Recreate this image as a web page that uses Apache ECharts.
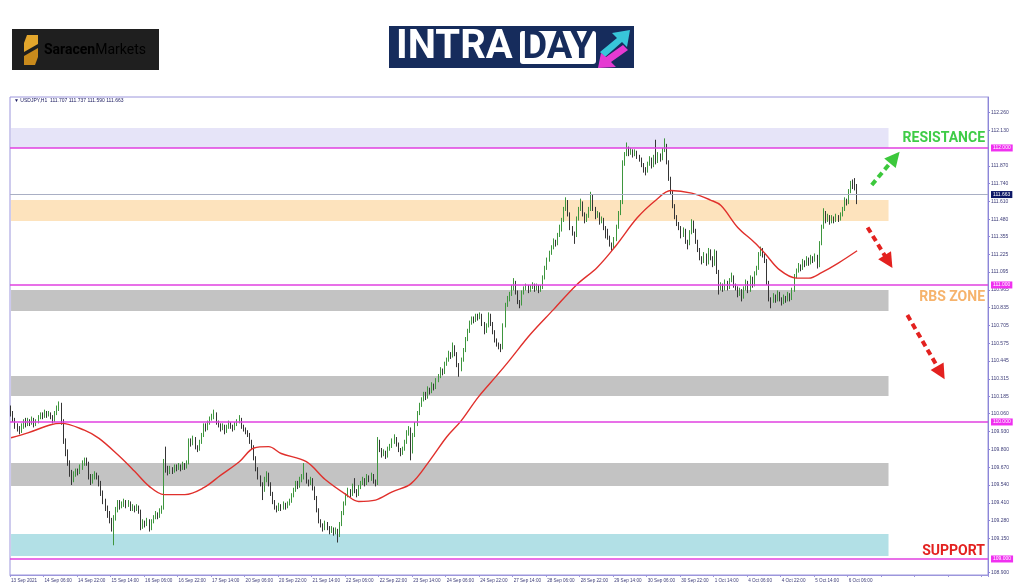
<!DOCTYPE html>
<html><head><meta charset="utf-8">
<script src="https://cdn.jsdelivr.net/npm/echarts@6/dist/echarts.min.js"></script>
<style>html,body{margin:0;padding:0;background:#fff}#c{width:1024px;height:587px}</style>
</head><body><div id="c"></div>
<script>
// ---------- data ----------
const tickLabels = ['13 Sep 2021','14 Sep 06:00','14 Sep 22:00','15 Sep 14:00','16 Sep 06:00','16 Sep 22:00','17 Sep 14:00','20 Sep 06:00','20 Sep 22:00','21 Sep 14:00','22 Sep 06:00','22 Sep 22:00','23 Sep 14:00','24 Sep 06:00','24 Sep 22:00','27 Sep 14:00','28 Sep 06:00','28 Sep 22:00','29 Sep 14:00','30 Sep 06:00','30 Sep 22:00','1 Oct 14:00','4 Oct 06:00','4 Oct 22:00','5 Oct 14:00','6 Oct 06:00'];
const yTicks = [112.260,112.130,111.870,111.740,111.610,111.480,111.355,111.225,111.095,110.965,110.835,110.705,110.575,110.445,110.315,110.185,110.060,109.930,109.800,109.670,109.540,109.410,109.280,109.150,108.900];
// [open, close, low, high] per H1 bar
const candles = [
[110.10,110.06,110.04,110.12],[110.06,110.02,110.00,110.08],[110.02,109.97,109.95,110.03],[109.97,109.95,109.93,109.99],[109.95,109.93,109.91,109.97],
[109.93,109.97,109.92,109.99],[109.97,110.00,109.95,110.02],[110.00,109.98,109.96,110.03],[109.98,110.01,109.97,110.03],[110.01,109.99,109.97,110.02],
[109.99,110.02,109.98,110.04],[110.02,109.98,109.96,110.03],[109.98,110.00,109.97,110.02],[110.00,110.03,109.99,110.05],[110.03,110.05,110.02,110.07],
[110.05,110.04,110.02,110.07],[110.04,110.07,110.03,110.09],[110.07,110.05,110.03,110.08],[110.05,110.06,110.04,110.08],[110.06,110.04,110.02,110.07],
[110.04,110.01,109.99,110.05],[110.01,110.06,110.00,110.08],[110.06,110.10,110.05,110.12],[110.10,110.13,110.08,110.15],[110.13,110.00,109.98,110.14],
[110.00,109.86,109.84,110.02],[109.86,109.78,109.75,109.88],[109.78,109.70,109.68,109.80],[109.70,109.63,109.60,109.72],[109.63,109.58,109.54,109.65],
[109.58,109.62,109.56,109.64],[109.62,109.64,109.60,109.66],[109.64,109.63,109.61,109.66],[109.63,109.67,109.62,109.69],[109.67,109.70,109.65,109.72],
[109.70,109.72,109.68,109.74],[109.72,109.70,109.68,109.74],[109.70,109.60,109.58,109.71],[109.60,109.56,109.54,109.62],[109.56,109.60,109.55,109.62],
[109.60,109.62,109.58,109.64],[109.62,109.60,109.58,109.63],[109.60,109.55,109.53,109.61],[109.55,109.48,109.46,109.57],[109.48,109.42,109.40,109.50],
[109.42,109.37,109.35,109.44],[109.37,109.33,109.30,109.39],[109.33,109.28,109.26,109.35],[109.28,109.23,109.20,109.30],[109.23,109.30,109.10,109.32],
[109.30,109.36,109.28,109.38],[109.36,109.41,109.34,109.43],[109.41,109.38,109.36,109.43],[109.38,109.40,109.37,109.42],[109.40,109.42,109.38,109.44],
[109.42,109.39,109.37,109.43],[109.39,109.41,109.38,109.43],[109.41,109.37,109.35,109.42],[109.37,109.38,109.35,109.40],[109.38,109.36,109.34,109.39],
[109.36,109.38,109.35,109.40],[109.38,109.35,109.33,109.39],[109.35,109.23,109.21,109.36],[109.23,109.27,109.22,109.29],[109.27,109.25,109.23,109.28],
[109.25,109.28,109.24,109.30],[109.28,109.22,109.20,109.29],[109.22,109.27,109.21,109.29],[109.27,109.30,109.26,109.32],[109.30,109.33,109.29,109.35],
[109.33,109.31,109.29,109.34],[109.31,109.35,109.30,109.37],[109.35,109.37,109.33,109.39],[109.37,109.69,109.36,109.73],[109.69,109.66,109.63,109.82],
[109.66,109.63,109.61,109.68],[109.63,109.66,109.62,109.68],[109.66,109.64,109.62,109.67],[109.64,109.67,109.63,109.69],[109.67,109.66,109.64,109.69],
[109.66,109.68,109.65,109.70],[109.68,109.66,109.64,109.69],[109.66,109.69,109.65,109.71],[109.69,109.67,109.65,109.70],[109.67,109.70,109.66,109.72],
[109.70,109.86,109.69,109.88],[109.86,109.84,109.82,109.88],[109.84,109.88,109.83,109.90],[109.88,109.82,109.80,109.89],[109.82,109.80,109.78,109.83],
[109.80,109.85,109.79,109.87],[109.85,109.90,109.84,109.92],[109.90,109.97,109.89,109.99],[109.97,109.95,109.93,109.99],[109.95,109.99,109.94,110.01],
[109.99,110.02,109.98,110.04],[110.02,110.04,110.01,110.06],[110.04,110.06,110.02,110.09],[110.06,110.00,109.98,110.07],[110.00,109.98,109.96,110.01],
[109.98,109.95,109.93,109.99],[109.95,109.97,109.94,109.99],[109.97,109.93,109.91,109.98],[109.93,109.96,109.92,109.98],[109.96,109.99,109.95,110.01],
[109.99,109.97,109.95,110.00],[109.97,109.95,109.93,109.98],[109.95,109.98,109.94,110.00],[109.98,110.00,109.97,110.02],[110.00,110.02,109.99,110.05],
[110.02,109.97,109.95,110.03],[109.97,109.95,109.93,109.98],[109.95,109.93,109.91,109.96],[109.93,109.91,109.89,109.94],[109.91,109.86,109.84,109.92],
[109.86,109.82,109.80,109.87],[109.82,109.74,109.72,109.83],[109.74,109.66,109.64,109.75],[109.66,109.60,109.58,109.67],[109.60,109.55,109.53,109.61],
[109.55,109.50,109.43,109.56],[109.50,109.58,109.49,109.60],[109.58,109.62,109.56,109.64],[109.62,109.55,109.53,109.63],[109.55,109.48,109.46,109.56],
[109.48,109.42,109.40,109.49],[109.42,109.38,109.36,109.43],[109.38,109.36,109.34,109.39],[109.36,109.39,109.35,109.41],[109.39,109.37,109.35,109.40],
[109.37,109.40,109.36,109.42],[109.40,109.38,109.36,109.41],[109.38,109.40,109.37,109.42],[109.40,109.42,109.39,109.44],[109.42,109.46,109.41,109.48],
[109.46,109.50,109.45,109.52],[109.50,109.55,109.49,109.57],[109.55,109.53,109.51,109.57],[109.53,109.58,109.52,109.60],[109.58,109.60,109.56,109.62],
[109.60,109.62,109.58,109.70],[109.62,109.57,109.55,109.63],[109.57,109.55,109.53,109.58],[109.55,109.58,109.54,109.60],[109.58,109.52,109.50,109.59],
[109.52,109.45,109.43,109.53],[109.45,109.36,109.34,109.46],[109.36,109.28,109.26,109.37],[109.28,109.25,109.23,109.29],[109.25,109.22,109.20,109.26],
[109.22,109.26,109.21,109.28],[109.26,109.23,109.21,109.27],[109.23,109.20,109.18,109.24],[109.20,109.22,109.19,109.24],[109.22,109.19,109.17,109.23],
[109.19,109.21,109.18,109.23],[109.21,109.17,109.12,109.22],[109.17,109.25,109.16,109.27],[109.25,109.33,109.24,109.35],[109.33,109.40,109.32,109.42],
[109.40,109.46,109.39,109.48],[109.46,109.50,109.45,109.52],[109.50,109.47,109.45,109.51],[109.47,109.53,109.46,109.55],[109.53,109.50,109.48,109.59],
[109.50,109.47,109.45,109.51],[109.47,109.52,109.46,109.54],[109.52,109.55,109.51,109.57],[109.55,109.58,109.54,109.60],[109.58,109.55,109.53,109.59],
[109.55,109.60,109.54,109.62],[109.60,109.58,109.56,109.61],[109.58,109.61,109.57,109.63],[109.61,109.57,109.55,109.62],[109.57,109.55,109.53,109.58],
[109.55,109.86,109.54,109.89],[109.86,109.80,109.78,109.87],[109.80,109.76,109.74,109.81],[109.76,109.78,109.75,109.80],[109.78,109.75,109.73,109.79],
[109.75,109.80,109.74,109.82],[109.80,109.82,109.79,109.84],[109.82,109.86,109.81,109.88],[109.86,109.88,109.84,109.91],[109.88,109.84,109.82,109.89],
[109.84,109.80,109.78,109.85],[109.80,109.77,109.75,109.81],[109.77,109.80,109.76,109.82],[109.80,109.85,109.79,109.87],[109.85,109.92,109.84,109.94],
[109.92,109.95,109.90,109.97],[109.95,109.78,109.72,109.96],[109.78,109.90,109.77,109.92],[109.90,109.98,109.89,110.00],[109.98,110.06,109.97,110.08],
[110.06,110.12,110.05,110.14],[110.12,110.16,110.11,110.18],[110.16,110.20,110.15,110.22],[110.20,110.18,110.16,110.22],[110.18,110.24,110.17,110.26],
[110.24,110.22,110.20,110.25],[110.22,110.27,110.21,110.29],[110.27,110.25,110.23,110.28],[110.25,110.30,110.24,110.32],[110.30,110.33,110.29,110.35],
[110.33,110.38,110.32,110.40],[110.38,110.36,110.34,110.39],[110.36,110.42,110.35,110.44],[110.42,110.45,110.41,110.47],[110.45,110.50,110.44,110.52],
[110.50,110.48,110.46,110.51],[110.48,110.55,110.47,110.58],[110.55,110.50,110.48,110.56],[110.50,110.42,110.40,110.51],[110.42,110.38,110.33,110.43],
[110.38,110.45,110.37,110.47],[110.45,110.52,110.44,110.54],[110.52,110.60,110.51,110.62],[110.60,110.66,110.59,110.68],[110.66,110.72,110.65,110.74],
[110.72,110.75,110.71,110.77],[110.75,110.74,110.72,110.77],[110.74,110.77,110.73,110.79],[110.77,110.76,110.74,110.79],[110.76,110.78,110.75,110.80],
[110.78,110.72,110.70,110.79],[110.72,110.66,110.64,110.73],[110.66,110.70,110.65,110.72],[110.70,110.78,110.69,110.80],[110.78,110.72,110.70,110.79],
[110.72,110.66,110.64,110.73],[110.66,110.60,110.58,110.67],[110.60,110.57,110.55,110.61],[110.57,110.55,110.53,110.58],[110.55,110.54,110.51,110.57],
[110.54,110.70,110.53,110.72],[110.70,110.85,110.69,110.87],[110.85,110.90,110.84,110.92],[110.90,110.93,110.88,110.95],[110.93,110.98,110.92,111.00],
[110.98,111.02,110.96,111.05],[111.02,110.95,110.93,111.03],[110.95,110.88,110.86,110.96],[110.88,110.86,110.83,110.89],[110.86,110.94,110.85,110.96],
[110.94,110.97,110.93,110.99],[110.97,110.99,110.96,111.01],[110.99,110.96,110.94,111.00],[110.96,110.98,110.95,111.00],[110.98,111.00,110.97,111.02],
[111.00,110.97,110.95,111.01],[110.97,110.99,110.96,111.01],[110.99,110.96,110.94,111.00],[110.96,110.98,110.95,111.00],[110.98,111.05,110.97,111.07],
[111.05,111.12,111.04,111.14],[111.12,111.18,111.11,111.20],[111.18,111.23,111.17,111.25],[111.23,111.27,111.22,111.29],[111.27,111.32,111.26,111.34],
[111.32,111.30,111.28,111.33],[111.30,111.36,111.29,111.38],[111.36,111.40,111.35,111.44],[111.40,111.47,111.39,111.49],[111.47,111.55,111.46,111.57],
[111.55,111.61,111.54,111.64],[111.61,111.52,111.50,111.62],[111.52,111.42,111.40,111.53],[111.42,111.38,111.36,111.43],[111.38,111.36,111.30,111.39],
[111.36,111.48,111.35,111.50],[111.48,111.55,111.47,111.57],[111.55,111.60,111.54,111.63],[111.60,111.52,111.50,111.61],[111.52,111.47,111.45,111.53],
[111.47,111.50,111.46,111.52],[111.50,111.55,111.49,111.57],[111.55,111.65,111.54,111.68],[111.65,111.56,111.54,111.66],[111.56,111.50,111.48,111.57],
[111.50,111.52,111.49,111.54],[111.52,111.46,111.44,111.53],[111.46,111.48,111.45,111.50],[111.48,111.42,111.40,111.49],[111.42,111.40,111.34,111.43],
[111.40,111.35,111.33,111.41],[111.35,111.30,111.28,111.36],[111.30,111.28,111.25,111.31],[111.28,111.33,111.27,111.35],[111.33,111.42,111.32,111.44],
[111.42,111.52,111.41,111.54],[111.52,111.60,111.51,111.62],[111.60,111.88,111.59,111.91],[111.88,111.95,111.87,111.97],[111.95,112.00,111.94,112.04],
[112.00,111.96,111.94,112.01],[111.96,111.98,111.95,112.00],[111.98,111.95,111.93,111.99],[111.95,111.97,111.94,111.99],[111.97,111.94,111.92,111.98],
[111.94,111.92,111.90,111.95],[111.92,111.88,111.86,111.93],[111.88,111.84,111.82,111.89],[111.84,111.83,111.80,111.86],[111.83,111.88,111.82,111.90],
[111.88,111.92,111.87,111.94],[111.92,111.87,111.85,111.93],[111.87,111.93,111.86,111.95],[111.93,111.90,111.88,112.06],[111.90,111.95,111.89,111.97],
[111.95,111.92,111.90,111.96],[111.92,111.98,111.91,112.00],[111.98,112.02,111.97,112.07],[112.02,111.90,111.88,112.03],[111.90,111.78,111.76,111.91],
[111.78,111.68,111.66,111.79],[111.68,111.58,111.56,111.69],[111.58,111.50,111.48,111.59],[111.50,111.45,111.43,111.51],[111.45,111.42,111.40,111.46],
[111.42,111.36,111.34,111.43],[111.36,111.40,111.35,111.42],[111.40,111.32,111.30,111.41],[111.32,111.30,111.26,111.33],[111.30,111.38,111.29,111.40],
[111.38,111.46,111.37,111.48],[111.46,111.40,111.38,111.47],[111.40,111.32,111.30,111.41],[111.32,111.26,111.24,111.33],[111.26,111.20,111.18,111.27],
[111.20,111.17,111.15,111.21],[111.17,111.22,111.16,111.24],[111.22,111.16,111.14,111.23],[111.16,111.25,111.15,111.27],[111.25,111.20,111.18,111.26],
[111.20,111.15,111.13,111.21],[111.15,111.24,111.14,111.26],[111.24,111.10,111.08,111.25],[111.10,110.97,110.93,111.11],[110.97,111.00,110.96,111.02],
[111.00,110.97,110.95,111.01],[110.97,111.02,110.96,111.04],[111.02,110.98,110.96,111.03],[110.98,111.03,110.97,111.05],[111.03,111.06,111.02,111.09],
[111.06,111.00,110.98,111.07],[111.00,110.98,110.96,111.01],[110.98,110.93,110.91,110.99],[110.93,110.96,110.92,110.98],[110.96,110.91,110.88,110.97],
[110.91,110.97,110.90,110.99],[110.97,111.02,110.96,111.04],[111.02,110.96,110.94,111.03],[110.96,111.05,110.95,111.07],[111.05,111.00,110.98,111.06],
[111.00,111.08,110.99,111.10],[111.08,111.12,111.07,111.14],[111.12,111.22,111.11,111.24],[111.22,111.26,111.21,111.28],[111.26,111.22,111.20,111.27],
[111.22,111.18,111.16,111.23],[111.18,111.02,111.00,111.19],[111.02,110.90,110.88,111.03],[110.90,110.88,110.83,110.91],[110.88,110.92,110.87,110.94],
[110.92,110.89,110.87,110.93],[110.89,110.94,110.88,110.96],[110.94,110.90,110.88,110.95],[110.90,110.87,110.85,110.91],[110.87,110.91,110.86,110.93],
[110.91,110.89,110.87,110.92],[110.89,110.93,110.88,110.95],[110.93,110.90,110.88,110.94],[110.90,110.96,110.89,110.98],[110.96,111.06,110.95,111.08],
[111.06,111.10,111.05,111.12],[111.10,111.14,111.09,111.16],[111.14,111.12,111.10,111.15],[111.12,111.17,111.11,111.19],[111.17,111.15,111.13,111.18],
[111.15,111.19,111.14,111.21],[111.19,111.16,111.14,111.20],[111.16,111.20,111.15,111.22],[111.20,111.18,111.16,111.21],[111.18,111.21,111.17,111.23],
[111.21,111.14,111.12,111.22],[111.14,111.30,111.13,111.32],[111.30,111.42,111.29,111.44],[111.42,111.53,111.41,111.56],[111.53,111.47,111.45,111.54],
[111.47,111.50,111.46,111.52],[111.50,111.46,111.44,111.51],[111.46,111.49,111.45,111.51],[111.49,111.47,111.45,111.50],[111.47,111.50,111.46,111.52],
[111.50,111.48,111.46,111.51],[111.48,111.51,111.47,111.53],[111.51,111.55,111.50,111.57],[111.55,111.62,111.54,111.64],[111.62,111.60,111.58,111.63],
[111.60,111.68,111.59,111.70],[111.68,111.74,111.67,111.76],[111.74,111.72,111.70,111.77],[111.72,111.707,111.69,111.78],[111.707,111.663,111.590,111.737]
];
// moving average: [bar index, value]
const maPoints = [[0,109.885],[8,109.92],[19,109.98],[24,109.99],[35,109.94],[42,109.88],[51,109.76],[59,109.64],[66,109.53],[73,109.47],[83,109.47],[92,109.52],[100,109.61],[109,109.71],[116,109.81],[123,109.82],[129,109.77],[141,109.71],[150,109.58],[160,109.47],[166,109.42],[174,109.43],[182,109.49],[191,109.55],[200,109.72],[208,109.89],[215,110.01],[223,110.18],[232,110.34],[238,110.45],[248,110.64],[259,110.82],[270,111.00],[280,111.13],[289,111.29],[299,111.49],[308,111.62],[315,111.69],[325,111.67],[334,111.62],[339,111.58],[347,111.42],[355,111.31],[360,111.23],[367,111.11],[375,111.05],[381,111.05],[387,111.09],[395,111.16],[404,111.25]];
// zones [top, bottom]
const zoneLavender = [112.146,112.000];
const zonePeach = [111.620,111.467];
const zonesGray = [[110.964,110.810],[110.336,110.190],[109.701,109.533]];
const zoneCyan = [109.182,109.022];
const levels = [112.000,111.000,110.000,109.000];
const lastPrice = 111.663;
const headerText = '\u25BC USDJPY,H1  111.707 111.737 111.590 111.663';
const arrowUp = [[411,111.73],[422,111.93]];
const arrowsDown = [[[409,111.42],[419,111.17]],[[428,110.78],[444,110.36]]];

// ---------- build ----------
const SLOTS = 467;
const ZONE_END = 419;
const categories = [];
for (let i = 0; i < SLOTS; i++) categories.push('b' + i);
const maData = new Array(candles.length).fill(null);
maPoints.forEach(p => { maData[p[0]] = p[1]; });
const blank = new Array(candles.length).fill(null);

function zone(z, color) {
  return [{xAxis: 0, yAxis: z[0], itemStyle: {color: color}}, {xAxis: ZONE_END, yAxis: z[1]}];
}
const areaData = [zone(zoneLavender, '#e6e4f8'), zone(zonePeach, '#fde3bd')]
  .concat(zonesGray.map(z => zone(z, '#c3c3c3')))
  .concat([zone(zoneCyan, '#b2e0e6')]);

const axisFont = 'Liberation Sans, Arial, sans-serif';
const levelLines = levels.map(v => ({
  yAxis: v,
  lineStyle: {color: '#e040e0', width: 1.5, type: 'solid'},
  label: {show: true, position: 'end', formatter: v.toFixed(3), backgroundColor: '#f030f0', color: '#fff',
          fontSize: 5, padding: [1, 2], distance: 3, fontFamily: axisFont}
}));
levelLines.push({
  yAxis: lastPrice,
  lineStyle: {color: '#a9afc4', width: 1, type: 'solid'},
  label: {show: true, position: 'end', formatter: lastPrice.toFixed(3), backgroundColor: '#0c1766', color: '#fff',
          fontSize: 5, padding: [1, 2], distance: 3, fontFamily: axisFont}
});

function arrowItem(a, color) {
  return [{coord: a[0], lineStyle: {color: color, width: 4, type: [6, 4]}}, {coord: a[1]}];
}
const arrowData = [arrowItem(arrowUp, '#3cc83c')].concat(arrowsDown.map(a => arrowItem(a, '#e3211f')));

const chart = echarts.init(document.getElementById('c'), null, {renderer: 'canvas'});
chart.setOption({
  animation: false,
  backgroundColor: '#ffffff',
  grid: {left: 10, right: 36, top: 97, bottom: 12, show: true, borderColor: '#9c96dc', borderWidth: 1,
         backgroundColor: 'transparent', containLabel: false, outerBoundsMode: 'none'},
  xAxis: {
    type: 'category', data: categories, boundaryGap: true,
    axisLine: {show: true, lineStyle: {color: '#9c96dc'}},
    axisTick: {show: true, interval: 15, length: 2, lineStyle: {color: '#9c96dc'}},
    axisLabel: {interval: 15, showMinLabel: true, hideOverlap: false, align: 'left', fontSize: 4.6, color: '#3c3c78', margin: 3, fontFamily: axisFont,
                formatter: (v, i) => tickLabels[i / 16] || ''},
    splitLine: {show: false}
  },
  yAxis: {
    type: 'value', position: 'right', min: 108.883, max: 112.372, scale: true,
    splitLine: {show: false},
    axisLine: {show: true, lineStyle: {color: '#8c86d8'}},
    axisTick: {show: true, customValues: yTicks, length: 2, lineStyle: {color: '#8c86d8'}},
    axisLabel: {customValues: yTicks, formatter: v => v.toFixed(3), fontSize: 5, color: '#3c3c78', margin: 3, fontFamily: axisFont}
  },
  series: [
    {
      type: 'line', data: blank, z: 1, silent: true, showSymbol: false, lineStyle: {opacity: 0},
      markArea: {silent: true, data: areaData},
      markLine: {silent: true, symbol: ['none', 'none'], data: levelLines}
    },
    {
      type: 'candlestick', data: candles, z: 3, barWidth: '55%',
      itemStyle: {color: '#3e963e', color0: '#353535', borderColor: '#3e963e', borderColor0: '#353535', borderWidth: 1}
    },
    {
      type: 'line', data: maData, z: 4, connectNulls: true, smooth: 0.35, showSymbol: false, silent: true,
      lineStyle: {color: '#e0302c', width: 1.4},
      markLine: {silent: true, symbol: ['none', 'triangle'], symbolSize: [15, 15], label: {show: false}, data: arrowData}
    }
  ],
  graphic: [
    {type: 'rect', shape: {x: 12, y: 29, width: 147, height: 41}, style: {fill: '#1f1f1f'}},
    {type: 'polygon', shape: {points: [[27, 35], [38, 35], [38, 44], [24, 52], [24, 43]]}, style: {fill: '#e3a62c'}},
    {type: 'polygon', shape: {points: [[38, 48], [38, 57], [35, 65], [24, 65], [24, 56]]}, style: {fill: '#c98a1c'}},
    {type: 'text', style: {x: 44, y: 50, text: '{a|Saracen}{b|Markets}', verticalAlign: 'middle',
      rich: {a: {fontFamily: 'Roboto', fontWeight: 'bold', fontSize: 14, color: '#ffffff'},
             b: {fontFamily: 'Roboto', fontWeight: 'normal', fontSize: 14, color: '#e8e8e8'}}}},
    {type: 'rect', shape: {x: 389, y: 26, width: 245, height: 42}, style: {fill: '#162c5c'}},
    {type: 'text', style: {x: 396, y: 48, text: 'INTRA', fill: '#ffffff', font: 'bold 40px Roboto', verticalAlign: 'middle'}},
    {type: 'rect', shape: {x: 520, y: 31, width: 76, height: 33, r: 3}, style: {fill: '#ffffff'}},
    {type: 'text', style: {x: 558, y: 48, text: 'DAY', fill: '#162c5c', font: 'bold 38px Roboto', align: 'center', verticalAlign: 'middle'}},
    {type: 'polygon', shape: {points: [[600, 52], [617, 38], [612, 33], [630, 30], [627, 47], [622, 42], [605, 57]]}, style: {fill: '#38c6d9'}},
    {type: 'polygon', shape: {points: [[628, 50], [611, 62], [616, 67], [598, 68], [601, 53], [606, 57], [623, 45]]}, style: {fill: '#e53ad2'}},
    {type: 'text', style: {x: 14, y: 101, text: headerText, fill: '#1c1c60', font: '5px Liberation Sans, Arial', verticalAlign: 'middle'}},
    {type: 'text', style: {x: 985, y: 138, text: 'RESISTANCE', fill: '#3fcc47', font: 'bold 14px Roboto', align: 'right', verticalAlign: 'middle'}},
    {type: 'text', style: {x: 985, y: 297, text: 'RBS ZONE', fill: '#f6b36c', font: 'bold 14px Roboto', align: 'right', verticalAlign: 'middle'}},
    {type: 'text', style: {x: 985, y: 551, text: 'SUPPORT', fill: '#e3211f', font: 'bold 14px Roboto', align: 'right', verticalAlign: 'middle'}}
  ]
});
</script>
</body></html>
